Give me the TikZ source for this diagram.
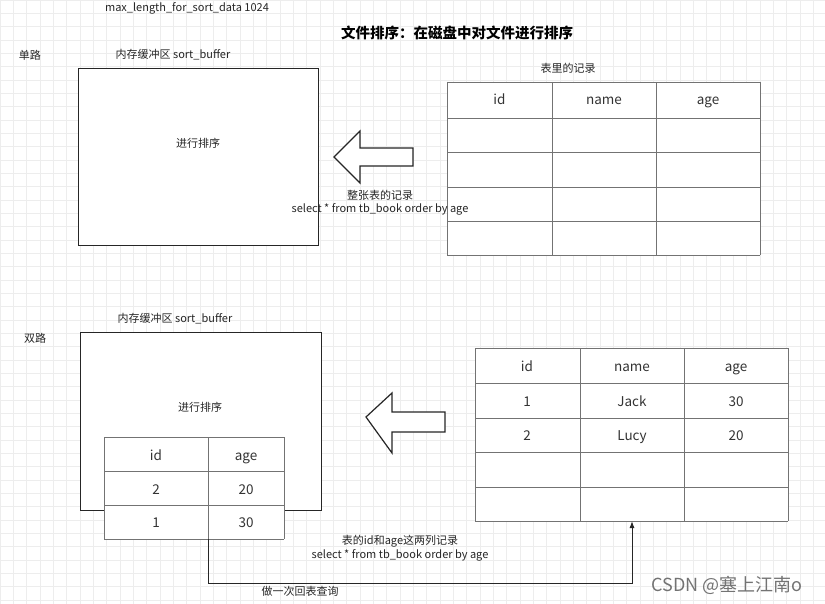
\documentclass[tikz,border=0pt]{standalone}
\usepackage{fontspec}
\setmainfont{Noto Sans CJK SC}
\usetikzlibrary{arrows.meta}
\begin{document}
\begin{tikzpicture}[x=1pt,y=-1pt,
  lbl/.style={font=\fontsize{11}{12}\selectfont,text=black!85,inner sep=0pt},
  cell/.style={font=\fontsize{13.5}{14}\selectfont,text=black!80,inner sep=0pt,anchor=base,yshift=-5pt},
  tline/.style={draw=black!55,line width=0.6pt},
  bx/.style={draw=black!85,line width=1.2pt,fill=white},
  blockarrow/.style={draw=black!85,line width=1.2pt,fill=white,line join=miter}]
\path[use as bounding box] (0,0) rectangle (825,604);
\fill[white] (0,0) rectangle (825,604);
\foreach \i in {0,...,62}{\draw[black!7,line width=0.4pt] (\i*13.33,0) -- (\i*13.33,604);}
\foreach \j in {0,...,46}{\draw[black!7,line width=0.4pt] (0,\j*13.33) -- (825,\j*13.33);}
% texts
\node[lbl] (t0) at (187,8) {max\_length\_for\_sort\_data 1024};
\node[font=\bfseries\fontsize{14.5}{16}\selectfont,inner sep=0pt] (title) at (457,33) {文件排序：在磁盘中对文件进行排序};
\node[lbl] (d1) at (30,55) {单路};
\node[lbl] (b1l) at (173,55) {内存缓冲区 sort\_buffer};
% box 1
\node[bx,minimum width=240,minimum height=177,anchor=north west] (box1) at (78,68) {};
\node[lbl] at (198,143) {进行排序};
% arrow 1
\draw[blockarrow] (334,157) -- (360,131) -- (360,148) -- (413,148) -- (413,166) -- (360,166) -- (360,183) -- cycle;
\node[lbl] (tl1) at (568,68) {表里的记录};
% table 1
\fill[white] (447,82) rectangle (760,255);
\foreach \y in {82,118,152,187,221,255}{\draw[tline] (447,\y) -- (760,\y);}
\foreach \x in {447,552,656,760}{\draw[tline] (\x,82) -- (\x,255);}
\node[cell] at (499.5,100) {id};
\node[cell] at (604,100) {name};
\node[cell] at (708,100) {age};
\node[lbl] (a1a) at (380,195) {整张表的记录};
\node[lbl] (a1b) at (380,209) {select * from tb\_book order by age};
% second part
\node[lbl] (d2) at (35,338) {双路};
\node[lbl] (b2l) at (175,319) {内存缓冲区 sort\_buffer};
\node[bx,minimum width=241,minimum height=178,anchor=north west] (box2) at (80,332) {};
\node[lbl] at (200,407) {进行排序};
% inner table
\fill[white] (104,437) rectangle (284,539);
\foreach \y in {437,471,505,539}{\draw[tline] (104,\y) -- (284,\y);}
\foreach \x in {104,208,284}{\draw[tline] (\x,437) -- (\x,539);}
\node[cell] at (156,455) {id}; \node[cell] at (246,455) {age};
\node[cell] at (156,489) {2}; \node[cell] at (246,489) {20};
\node[cell] at (156,522) {1}; \node[cell] at (246,522) {30};
\coordinate (src) at (208,539);
% arrow 2
\draw[blockarrow] (366,417) -- (392,393) -- (392,412) -- (445,412) -- (445,432) -- (392,432) -- (392,453) -- cycle;
% table 2
\fill[white] (475,348) rectangle (788,521);
\foreach \y in {348,383,418,452,487,521}{\draw[tline] (475,\y) -- (788,\y);}
\foreach \x in {475,580,684,788}{\draw[tline] (\x,348) -- (\x,521);}
\node[cell] at (527,366) {id}; \node[cell] at (632,366) {name}; \node[cell] at (736,366) {age};
\node[cell] at (527,401) {1}; \node[cell] at (632,401) {Jack}; \node[cell] at (736,401) {30};
\node[cell] at (527,435) {2}; \node[cell] at (632,435) {Lucy}; \node[cell] at (736,435) {20};
\coordinate (dst) at (632,521);
\draw[black!85,line width=1pt,-{Latex[length=7pt,width=5pt]}] (src) |- (632,583) -- (dst);
\node[lbl] at (400,541) {表的id和age这两列记录};
\node[lbl] at (400,555) {select * from tb\_book order by age};
\node[lbl] at (300,591) {做一次回表查询};
\node[font=\fontsize{18}{20}\selectfont,text=black!55,inner sep=0pt] at (727,585) {CSDN @塞上江南o};
\end{tikzpicture}
\end{document}
